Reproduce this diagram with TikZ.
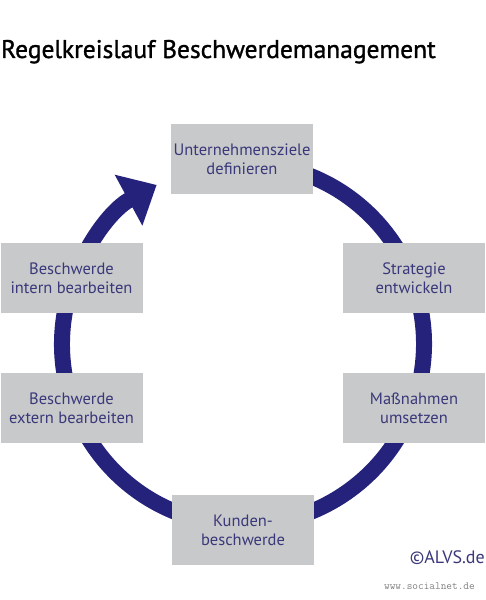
\documentclass[tikz,border=0pt]{standalone}
\usepackage{fontspec}
\setmainfont{PT Sans}
\newfontfamily\titlefont[FakeBold=1.2]{PT Sans}
\usetikzlibrary{arrows.meta,positioning}
\definecolor{ringblue}{RGB}{36,34,122}
\definecolor{textblue}{RGB}{58,56,122}
\definecolor{boxgray}{RGB}{200,201,202}

\begin{document}
\begin{tikzpicture}[x=1pt,y=1pt,
   step box/.style={fill=boxgray,minimum width=142pt,minimum height=70pt,
      inner sep=0pt,align=center,text=textblue,
      font=\fontsize{16.5}{19}\selectfont},
   ring/.style={draw=ringblue,line width=16pt,
      -{Triangle[width=56pt,length=32pt]}}]

\useasboundingbox (0,0) rectangle (485,600);
\coordinate (c) at (243,256);

\draw[ring] (c) ++(80:181) arc[start angle=80,end angle=-241.5,radius=181];

\node[step box] (ziele)     at (242,441) {Unternehmensziele\\definieren};
\node[step box] (strategie) at (414,322) {Strategie\\entwickeln};
\node[step box] (massnahmen) at (414,192) {Maßnahmen\\umsetzen};
\node[step box] (kunden)    at (243,70)  {Kunden-\\beschwerde};
\node[step box] (extern)    at (71.5,192) {Beschwerde\\extern bearbeiten};
\node[step box] (intern)    at (71.5,322) {Beschwerde\\intern bearbeiten};

\node[anchor=base west,inner sep=0pt,font=\titlefont\fontsize{25.5}{30}\selectfont]
   (titel) at (1,542) {Regelkreislauf Beschwerdemanagement};
\node[anchor=base east,inner sep=0pt,text=textblue,
   font=\fontsize{18}{20}\selectfont] (copy) at (485,36) {©ALVS.de};
\node[anchor=base east,inner sep=0pt,text=black!50,
   font=\fontsize{11}{12}\ttfamily] (web) at (475,10) {www.socialnet.de};
\end{tikzpicture}
\end{document}
